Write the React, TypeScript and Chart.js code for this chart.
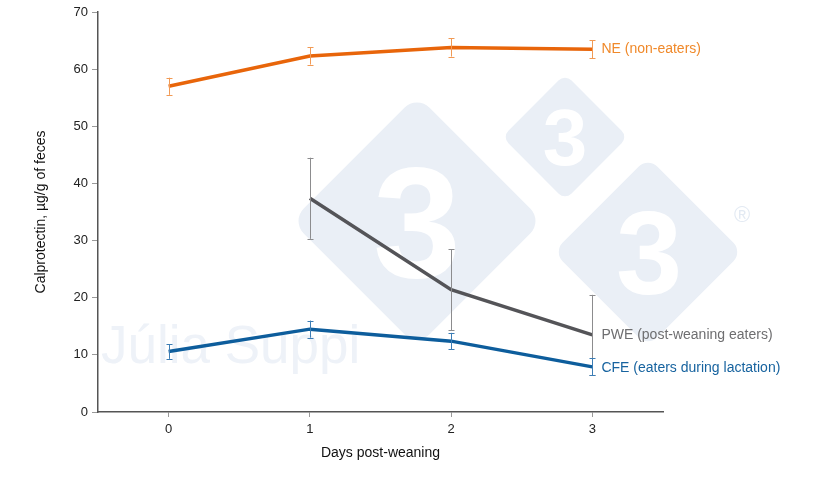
import React, { useEffect, useRef } from "react";
import { Chart, registerables } from "chart.js";

Chart.register(...registerables);

const days = [0, 1, 2, 3];
const neValues = [57.0, 62.3, 63.8, 63.5];
const neErrors = [1.5, 1.5, 1.6, 1.6];
const pweValues = [null, 37.4, 21.4, 13.5];
const pweErrors = [null, 7.1, 7.1, 7.0];
const cfeValues = [10.6, 14.5, 12.4, 7.9];
const cfeErrors = [1.3, 1.5, 1.45, 1.5];
const seriesLabels = ["NE (non-eaters)", "PWE (post-weaning eaters)", "CFE (eaters during lactation)"];
const yTicks = [0, 10, 20, 30, 40, 50, 60, 70];
const xTicks = [0, 1, 2, 3];

const FONT = "'Liberation Sans', Arial, Helvetica, sans-serif";

const lineColors = ["#E8650A", "#545458", "#0D5D9C"];
const errColors = ["#F19A55", "#8C8C8E", "#3C7DB5"];
const labelColors = ["#F0892A", "#6E6E70", "#17639F"];
const labelDy = [0, 0, 1];

function toPts(vals: (number | null)[]) {
  return days.map((d, i) => ({ x: d, y: vals[i] as any }));
}

const watermark = {
  id: "watermark",
  beforeDatasetsDraw(chart: any) {
    const ctx = chart.ctx;
    ctx.save();
    const col = "#EAEFF6";
    const diamonds = [
      { cx: 417, cy: 221, s: 178 },
      { cx: 565, cy: 137, s: 89 },
      { cx: 648, cy: 252, s: 134 },
    ];
    for (const d of diamonds) {
      ctx.save();
      ctx.translate(d.cx, d.cy);
      ctx.rotate(Math.PI / 4);
      ctx.fillStyle = col;
      ctx.beginPath();
      const r = d.s * 0.1;
      const h = d.s / 2;
      ctx.moveTo(-h + r, -h);
      ctx.arcTo(h, -h, h, h, r);
      ctx.arcTo(h, h, -h, h, r);
      ctx.arcTo(-h, h, -h, -h, r);
      ctx.arcTo(-h, -h, h, -h, r);
      ctx.closePath();
      ctx.fill();
      ctx.restore();
    }
    ctx.fillStyle = "#FFFFFF";
    ctx.textAlign = "center";
    ctx.textBaseline = "alphabetic";
    ctx.font = `bold 158px ${FONT}`;
    ctx.fillText("3", 417, 277);
    ctx.font = `bold 80px ${FONT}`;
    ctx.fillText("3", 565, 165);
    ctx.font = `bold 119px ${FONT}`;
    ctx.fillText("3", 649, 294);
    ctx.fillStyle = "#E3EAF3";
    ctx.textBaseline = "middle";
    ctx.font = `22px ${FONT}`;
    ctx.fillText("®", 742, 216);
    ctx.fillStyle = "#EEF2F8";
    ctx.textAlign = "left";
    ctx.textBaseline = "alphabetic";
    ctx.font = `53px ${FONT}`;
    ctx.fillText("Júlia Suppi", 101, 363);
    ctx.restore();
  },
};

const errorBars = {
  id: "errorBars",
  afterDatasetsDraw(chart: any) {
    const ctx = chart.ctx;
    const xs = chart.scales.x;
    const ys = chart.scales.y;
    const groups = [
      [neValues, neErrors],
      [pweValues, pweErrors],
      [cfeValues, cfeErrors],
    ] as any[];
    ctx.save();
    groups.forEach(([vals, errs], gi) => {
      ctx.strokeStyle = errColors[gi];
      ctx.lineWidth = 1;
      days.forEach((d, i) => {
        if (vals[i] == null || errs[i] == null) return;
        const px = Math.round(xs.getPixelForValue(d)) + 0.5;
        const top = ys.getPixelForValue(vals[i] + errs[i]);
        const bot = ys.getPixelForValue(vals[i] - errs[i]);
        ctx.beginPath();
        ctx.moveTo(px, top);
        ctx.lineTo(px, bot);
        ctx.moveTo(px - 3, Math.round(top) + 0.5);
        ctx.lineTo(px + 3, Math.round(top) + 0.5);
        ctx.moveTo(px - 3, Math.round(bot) + 0.5);
        ctx.lineTo(px + 3, Math.round(bot) + 0.5);
        ctx.stroke();
      });
    });
    const allVals = [neValues, pweValues, cfeValues];
    ctx.font = `14px ${FONT}`;
    ctx.textAlign = "left";
    ctx.textBaseline = "middle";
    allVals.forEach((vals, gi) => {
      const last = days.length - 1;
      const px = xs.getPixelForValue(days[last]) + 9;
      const py = ys.getPixelForValue(vals[last] as number) + labelDy[gi];
      ctx.fillStyle = labelColors[gi];
      ctx.fillText(seriesLabels[gi], px, py);
    });
    ctx.restore();
  },
};

export default function App() {
  const ref = useRef<HTMLCanvasElement | null>(null);
  useEffect(() => {
    if (!ref.current) return;
    const mk = (vals: any[], gi: number) => ({
      label: seriesLabels[gi],
      data: toPts(vals),
      borderColor: lineColors[gi],
      backgroundColor: lineColors[gi],
      borderWidth: 3.5,
      pointRadius: 0,
      tension: 0,
      spanGaps: false,
    });
    const chart = new Chart(ref.current, {
      type: "line",
      data: {
        datasets: [mk(neValues, 0), mk(pweValues, 1), mk(cfeValues, 2)],
      },
      options: {
        animation: false,
        responsive: false,
        maintainAspectRatio: false,
        layout: { padding: { left: 0, right: 157, top: 12, bottom: 0 } },
        plugins: { legend: { display: false }, tooltip: { enabled: false } },
        scales: {
          x: {
            type: "linear",
            min: -0.5,
            max: 3.5,
            afterBuildTicks: (s: any) => {
              s.ticks = xTicks.map((v) => ({ value: v }));
            },
            afterFit: (s: any) => {
              s.height = 74;
            },
            grid: {
              display: true,
              drawOnChartArea: false,
              drawTicks: true,
              tickLength: 5,
              color: "#9A9A9A",
            },
            border: { display: true, color: "#555555", width: 1.5 },
            ticks: {
              color: "#222222",
              font: { family: FONT, size: 13 },
              padding: 5,
              maxRotation: 0,
            },
            title: {
              display: true,
              text: "Days post-weaning",
              color: "#111111",
              font: { family: FONT, size: 14 },
              padding: { top: 4, bottom: 24 },
            },
          },
          y: {
            type: "linear",
            min: 0,
            max: 70,
            afterBuildTicks: (s: any) => {
              s.ticks = yTicks.map((v) => ({ value: v }));
            },
            afterFit: (s: any) => {
              s.width = 98;
            },
            grid: {
              display: true,
              drawOnChartArea: false,
              drawTicks: true,
              tickLength: 6,
              color: "#9A9A9A",
            },
            border: { display: true, color: "#555555", width: 1.5 },
            ticks: {
              color: "#222222",
              font: { family: FONT, size: 13 },
              padding: 4,
            },
            title: {
              display: true,
              text: "Calprotectin, µg/g of feces",
              color: "#111111",
              font: { family: FONT, size: 14 },
              padding: { top: 33, bottom: 4 },
            },
          },
        },
      },
      plugins: [watermark, errorBars],
    });
    return () => chart.destroy();
  }, []);
  return (
    <div style={{ position: "fixed", left: 0, top: 0, width: 820, height: 486, background: "#fff" }}>
      <canvas ref={ref} width={820} height={486} style={{ width: 820, height: 486, display: "block" }} />
    </div>
  );
}
